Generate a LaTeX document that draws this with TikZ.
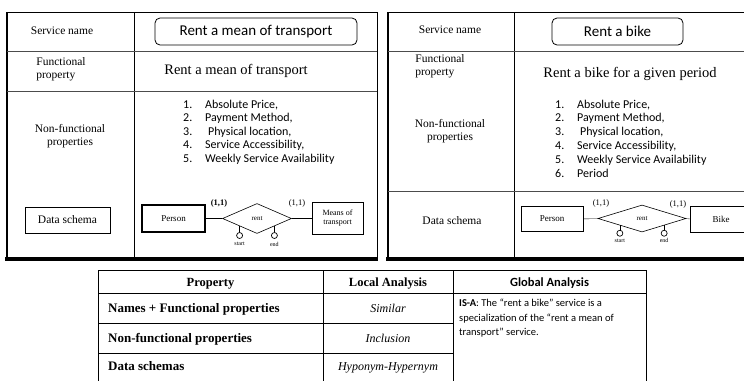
\documentclass[tikz,border=0pt]{standalone}
\usepackage{fontspec}
\setmainfont{Liberation Serif}
\newfontfamily\calfont{Carlito}
\usepackage{tikz}
\usetikzlibrary{positioning,shapes.geometric}

\tikzset{
  rowlabel/.style={draw=none,fill=none,align=center,font=\fontsize{11.5}{13.5}\selectfont},
  svcname/.style={draw,rounded corners=5pt,line width=0.8pt,minimum height=27pt,font=\calfont\fontsize{15}{17}\selectfont},
  svcfunc/.style={draw=none,fill=none,font=\fontsize{14.5}{17}\selectfont},
  nfp/.style={draw=none,fill=none,inner sep=0pt,anchor=base west,font=\calfont\fontsize{12}{13}\selectfont},
  entity/.style={draw,line width=0.8pt,align=center,inner sep=1pt,font=\fontsize{9}{10}\selectfont},
  relship/.style={diamond,draw,line width=0.6pt,inner sep=0pt,font=\fontsize{7}{8}\selectfont},
  card/.style={draw=none,fill=none,inner sep=0pt,font=\fontsize{8.5}{9}\selectfont},
  attr/.style={circle,draw,line width=0.7pt,inner sep=0pt,minimum size=6pt},
  attrname/.style={draw=none,fill=none,inner sep=0pt,font=\fontsize{6}{7}\selectfont},
  head/.style={draw=none,fill=none,anchor=base,font=\bfseries\fontsize{12.5}{14}\selectfont},
  prop/.style={draw=none,fill=none,anchor=base west,inner sep=0pt,font=\bfseries\fontsize{13}{14}\selectfont},
  local/.style={draw=none,fill=none,anchor=base,font=\itshape\fontsize{12}{14}\selectfont},
}

\begin{document}
\begin{tikzpicture}[x=1pt,y=-1pt]
\useasboundingbox (0,0) rectangle (744,381);

%frame of the first service
\draw[line width=0.8pt] (7,12) -- (377,12);
\draw[line width=1.6pt] (7,12) -- (7,259);
\draw[line width=1pt] (377,12) -- (377,259);
\draw[line width=0.8pt] (134,12) -- (134,259);
\draw[line width=0.6pt,black!70] (7,51) -- (377,51);
\draw[line width=0.6pt,black!70] (7,91) -- (377,91);
\draw[line width=3.5pt] (5.4,259) -- (378,259);

%labels of the first service
\node[rowlabel] (nameA) at (62,31) {Service name};
\node[rowlabel,align=left] (funcA) at (61,69) {Functional\\property};
\node[rowlabel] (nfplabA) at (70,136) {Non-functional\\properties};
\node[entity,minimum width=85pt,minimum height=26pt,font=\fontsize{11.5}{13}\selectfont] (dataA) at (67.5,220) {Data schema};

\node[svcname,minimum width=202pt] (svcA) at (256,31.5) {Rent a mean of transport};
\node[svcfunc] (funcdescA) at (236,71) {Rent a mean of transport};

\foreach \t [count=\i] in {{Absolute Price,},{Payment Method,},{\hspace{3pt}Physical location,},{Service Accessibility,},{Weekly Service Availability}}{
  \node[nfp] (numA\i) at (183,{108+13.5*(\i-1)}) {\i.};
  \node[nfp] (nfpA\i) at (205,{108+13.5*(\i-1)}) {\t};
}

%data schema of the first service
\node[entity,line width=1.6pt,minimum width=63pt,minimum height=27pt] (personA) at (173.5,218.5) {Person};
\node[relship,minimum width=69pt,minimum height=30pt] (rentA) at (257,218.5) {rent};
\node[entity,minimum width=51pt,minimum height=32pt,font=\fontsize{8}{9}\selectfont] (meansA) at (337.5,218.5) {Means of\\transport};
\draw[line width=1.6pt] (personA) -- (rentA);
\draw[line width=1pt] (rentA) -- (meansA);
\node[card,font=\bfseries\fontsize{8.5}{9}\selectfont] (cardA1) at (219,203) {(1,1)};
\node[card] (cardA2) at (297,203) {(1,1)};
\node[attr,below=6pt of rentA.south west] (startA) {};
\node[attr,below=6pt of rentA.south east] (endA) {};
\draw (rentA.south west) -- (startA);
\draw (rentA.south east) -- (endA);
\node[attrname,below=3pt of startA] (startlabA) {start};
\node[attrname,below=3pt of endA] (endlabA) {end};

%frame of the second service
\draw[line width=0.8pt] (388,12) -- (744,12);
\draw[line width=1.6pt] (388,12) -- (388,259);
\draw[line width=0.8pt] (514,12) -- (514,259);
\draw[line width=0.6pt,black!70] (388,51) -- (744,51);
\draw[line width=0.6pt,black!70] (388,191) -- (744,191);
\draw[line width=3.5pt] (386.4,259) -- (744,259);

%labels of the second service
\node[rowlabel] (nameB) at (450,30) {Service name};
\node[rowlabel,align=left] (funcB) at (440,66) {Functional\\property};
\node[rowlabel] (nfplabB) at (450,131) {Non-functional\\properties};
\node[rowlabel] (dataB) at (452,221) {Data schema};

\node[svcname,minimum width=131pt] (svcB) at (617.5,31.5) {Rent a bike};
\node[svcfunc] (funcdescB) at (630,74) {Rent a bike for a given period};

\foreach \t [count=\i] in {{Absolute Price,},{Payment Method,},{\hspace{3pt}Physical location,},{Service Accessibility,},{Weekly Service Availability},{Period}}{
  \node[nfp] (numB\i) at (555,{108+13.8*(\i-1)}) {\i.};
  \node[nfp] (nfpB\i) at (577,{108+13.8*(\i-1)}) {\t};
}

%data schema of the second service
\node[entity,minimum width=62pt,minimum height=25pt] (personB) at (552,219) {Person};
\node[relship,minimum width=88pt,minimum height=27pt] (rentB) at (642,218.5) {rent};
\node[entity,minimum width=62pt,minimum height=26pt] (bikeB) at (721,219) {Bike};
\draw (personB) -- (rentB);
\draw (rentB) -- (bikeB);
\node[card] (cardB1) at (601,203) {(1,1)};
\node[card] (cardB2) at (678,204) {(1,1)};
\node[attr,below=4.5pt of rentB.south west] (startB) {};
\node[attr,below=4.5pt of rentB.south east] (endB) {};
\draw (rentB.south west) -- (startB);
\draw (rentB.south east) -- (endB);
\node[attrname,below=2pt of startB] (startlabB) {start};
\node[attrname,below=2pt of endB] (endlabB) {end};

%comparison table
\draw[line width=0.8pt] (98,270) -- (646,270);
\draw[line width=0.6pt] (98,293) -- (646,293);
\draw[line width=0.6pt] (98,323) -- (453,323);
\draw[line width=0.6pt] (98,353) -- (453,353);
\draw[line width=0.8pt] (98,270) -- (98,381);
\draw[line width=0.8pt] (323,270) -- (323,381);
\draw[line width=0.8pt] (453,270) -- (453,381);
\draw[line width=0.8pt] (646,270) -- (646,381);

\node[head] (propH) at (210.5,286) {Property};
\node[head] (localH) at (388,286) {Local Analysis};
\node[head,font=\calfont\bfseries\fontsize{12.5}{14}\selectfont] (globalH) at (549.5,286) {Global Analysis};
\node[prop] (propN) at (108,312) {Names + Functional properties};
\node[prop] (propNF) at (108,342) {Non-functional properties};
\node[prop] (propD) at (108,370) {Data schemas};
\node[local] (locN) at (388,312) {Similar};
\node[local] (locNF) at (388,342) {Inclusion};
\node[local] (locD) at (388,370) {Hyponym-Hypernym};
\node[draw=none,fill=none,anchor=north west,align=left,inner sep=0pt,font=\calfont\fontsize{10.5}{14.5}\selectfont] (globalT) at (459,299)
 {\textbf{IS-A}: The “rent a bike” service is a\\specialization of the “rent a mean of\\transport” service.};

\end{tikzpicture}
\end{document}
